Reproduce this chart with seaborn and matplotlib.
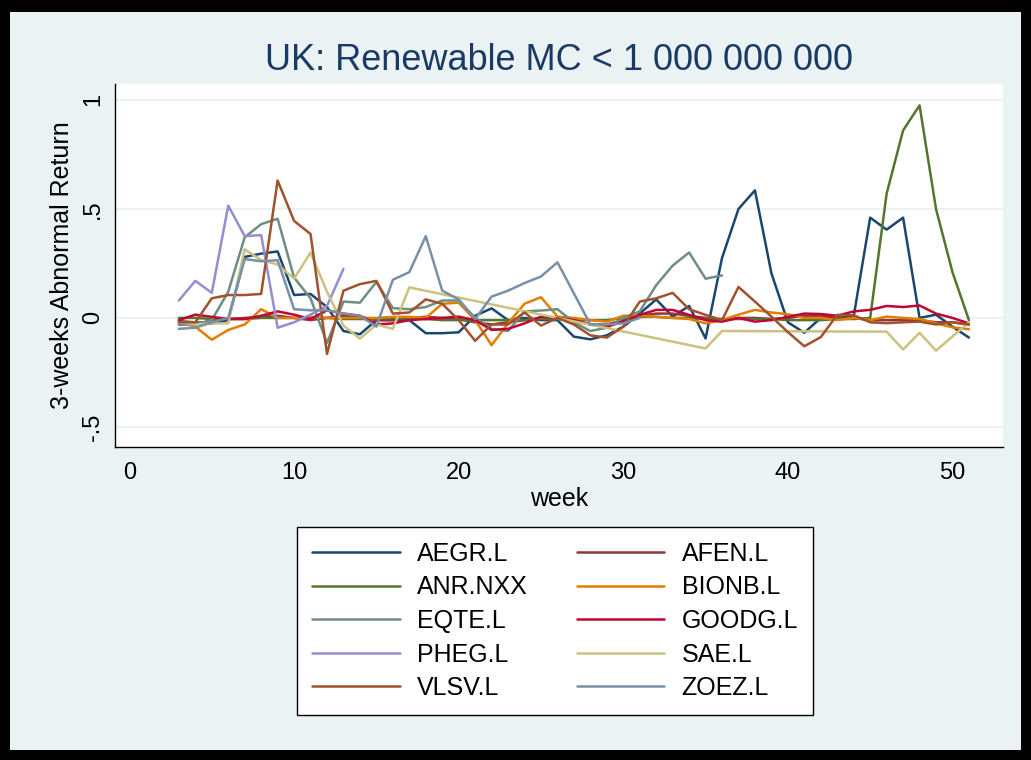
import matplotlib
matplotlib.use("Agg")
import matplotlib.pyplot as plt
import matplotlib.patches as mpatches
import numpy as np
import pandas as pd
import seaborn as sns

# ---------------- data ----------------
companies = ["AEGR.L", "AFEN.L", "ANR.NXX", "BIONB.L", "EQTE.L",
             "GOODG.L", "PHEG.L", "SAE.L", "VLSV.L", "ZOEZ.L"]
colors = ["#1A476F", "#90353B", "#55752F", "#E37E00", "#6E8E84",
          "#C10534", "#938DD2", "#CAC27E", "#A0522D", "#7890A8"]

aegr_weeks = list(range(3, 52))
aegr = [-0.015, -0.02, -0.025, -0.01, 0.28, 0.295, 0.305, 0.105, 0.11, 0.05,
        -0.06, -0.075, -0.01, -0.01, -0.01, -0.07, -0.07, -0.066, 0.01, 0.044,
        -0.01, 0.0, -0.01, -0.01, -0.086, -0.098, -0.08, -0.04, 0.02, 0.085,
        0.006, 0.055, -0.094, 0.275, 0.50, 0.585, 0.205, -0.02, -0.068, 0.0,
        0.0, 0.008, 0.46, 0.405, 0.46, 0.0, 0.015, -0.04, -0.09]

afen_weeks = list(range(3, 52))
afen = [-0.03, -0.03, -0.01, -0.005, 0.0, 0.005, 0.01, 0.0, -0.01, 0.0,
        0.01, 0.005, -0.01, -0.01, 0.0, 0.005, 0.0, -0.005, -0.02, -0.03,
        -0.02, -0.01, 0.0, 0.0, -0.01, -0.03, -0.03, -0.01, 0.01, 0.02,
        0.02, 0.01, 0.0, -0.01, 0.0, 0.0, -0.005, 0.0, 0.01, 0.01,
        0.0, 0.0, -0.01, -0.01, -0.01, -0.01, -0.02, -0.02, -0.03]

anr_weeks = list(range(3, 52))
anr = [0.0, 0.0, -0.005, -0.005, -0.005, 0.0, 0.0, 0.0, 0.0, 0.0,
       -0.005, -0.005, -0.005, 0.0, 0.0, -0.005, -0.01, -0.01, -0.01, -0.01,
       -0.01, -0.01, -0.005, -0.005, -0.01, -0.01, -0.01, 0.0, 0.005, 0.005,
       0.0, 0.0, -0.005, -0.005, -0.005, -0.005, -0.005, -0.01, -0.01, -0.01,
       -0.005, -0.005, 0.0, 0.57, 0.86, 0.975, 0.50, 0.21, -0.01]

bionb_weeks = list(range(3, 52))
bionb = [-0.02, -0.04, -0.10, -0.055, -0.03, 0.04, 0.0, 0.0, 0.005, 0.0,
         0.0, 0.0, 0.0, 0.005, 0.005, 0.0, 0.065, 0.07, -0.01, -0.125,
         -0.025, 0.065, 0.095, 0.006, 0.0, -0.01, -0.017, 0.01, 0.01, 0.005,
         0.0, -0.005, -0.025, -0.01, 0.015, 0.037, 0.025, 0.017, 0.0, 0.0,
         -0.01, 0.0, -0.01, 0.006, 0.0, -0.005, -0.025, -0.043, -0.052]

eqte_weeks = list(range(3, 37))
eqte = [-0.03, -0.03, -0.01, 0.12, 0.37, 0.43, 0.455, 0.185, 0.09, -0.115,
        0.075, 0.07, 0.165, 0.045, 0.04, 0.05, 0.08, 0.08, 0.0, -0.05,
        -0.06, 0.03, 0.034, 0.04, -0.02, -0.06, -0.045, 0.0, 0.03, 0.15,
        0.24, 0.30, 0.18, 0.195]

goodg_weeks = list(range(3, 52))
goodg = [-0.01, 0.015, 0.005, -0.005, -0.005, 0.01, 0.03, 0.015, -0.005, 0.035,
         0.02, 0.01, -0.03, -0.025, -0.01, -0.005, 0.0, 0.006, -0.01, -0.055,
         -0.05, -0.025, 0.006, 0.0, -0.01, -0.03, -0.04, -0.017, 0.014, 0.037,
         0.037, 0.014, -0.01, -0.017, 0.0, -0.017, -0.01, 0.005, 0.02, 0.018,
         0.01, 0.03, 0.037, 0.055, 0.05, 0.057, 0.02, 0.0, -0.025]

pheg_weeks = list(range(3, 14))
pheg = [0.08, 0.17, 0.115, 0.515, 0.375, 0.38, -0.045, -0.02, 0.015, 0.055, 0.225]

sae_weeks = [3, 4, 5, 6, 7, 8, 9, 10, 11, 12, 13, 14, 15, 16, 17,
             35, 36, 46, 47, 48, 49, 50, 51]
sae = [-0.02, -0.03, -0.025, -0.025, 0.315, 0.265, 0.245, 0.18, 0.30, 0.12,
       -0.035, -0.095, -0.03, -0.05, 0.14, -0.14, -0.06, -0.063, -0.145, -0.068,
       -0.15, -0.085, -0.02]

vlsv_weeks = list(range(3, 52))
vlsv = [-0.02, -0.02, 0.09, 0.105, 0.105, 0.11, 0.63, 0.445, 0.385, -0.165,
        0.125, 0.155, 0.17, 0.02, 0.025, 0.085, 0.065, -0.01, -0.105, -0.03,
        -0.03, 0.025, -0.035, 0.0, -0.03, -0.08, -0.09, -0.04, 0.075, 0.09,
        0.115, 0.04, 0.014, -0.01, 0.142, 0.075, 0.006, -0.065, -0.13, -0.088,
        0.014, 0.012, -0.02, -0.024, -0.02, -0.017, -0.03, -0.02, -0.03]

zoez_weeks = [3, 4, 5, 6, 7, 8, 9, 10, 11, 12, 13, 14, 15, 16, 17, 18, 19, 20,
              21, 22, 23, 24, 25, 26, 28, 29, 30, 31]
zoez = [-0.05, -0.045, -0.02, 0.0, 0.27, 0.26, 0.265, 0.04, 0.035, 0.035,
        0.02, 0.01, -0.04, 0.175, 0.21, 0.375, 0.125, 0.085, -0.005, 0.098,
        0.125, 0.16, 0.19, 0.255, -0.03, -0.03, -0.025, 0.0]

title = "UK: Renewable MC < 1 000 000 000"
xlabel = "week"
ylabel = "3-weeks Abnormal Return"
xticks = [0, 10, 20, 30, 40, 50]
yticks = [-0.5, 0, 0.5, 1]
yticklabels = ["-.5", "0", ".5", "1"]

series = [(aegr_weeks, aegr), (afen_weeks, afen), (anr_weeks, anr),
          (bionb_weeks, bionb), (eqte_weeks, eqte), (goodg_weeks, goodg),
          (pheg_weeks, pheg), (sae_weeks, sae), (vlsv_weeks, vlsv),
          (zoez_weeks, zoez)]

frames = []
for name, (w, v) in zip(companies, series):
    frames.append(pd.DataFrame({"week": w, "car": v, "company": name}))
df = pd.concat(frames, ignore_index=True)

# ---------------- figure ----------------
sns.set_style("white")
FONT = ["Liberation Sans", "DejaVu Sans"]
plt.rcParams["font.family"] = FONT
plt.rcParams["text.color"] = "black"
plt.rcParams["axes.labelcolor"] = "black"

W, H = 1031, 760
fig = plt.figure(figsize=(W / 100, H / 100), dpi=100)
fig.patch.set_facecolor("black")
bg = mpatches.Rectangle((10 / W, 10 / H), (W - 20) / W, (H - 22) / H,
                        transform=fig.transFigure, facecolor="#EAF2F3",
                        edgecolor="none", zorder=-10)
fig.patches.append(bg)

L, R, T, B = 115, 1003, 84, 447
ax = fig.add_axes([L / W, 1 - B / H, (R - L) / W, (B - T) / H])
ax.set_zorder(1)
ax.set_facecolor("white")

palette = dict(zip(companies, colors))
sns.lineplot(data=df, x="week", y="car", hue="company", hue_order=companies,
             palette=palette, estimator=None, linewidth=1.8, ax=ax, legend=False)

ax.set_xlim(-0.88, 53.07)
ax.set_ylim(-0.592, 1.073)
ax.set_xticks(xticks)
ax.set_yticks(yticks)
ax.set_yticklabels(yticklabels, rotation=90, va="center")
ax.tick_params(axis="both", direction="out", length=7, width=1, colors="black",
               labelsize=17)
ax.tick_params(axis="y", pad=1)
ax.tick_params(axis="x", pad=4)
ax.grid(axis="y", color="#EAF2F3", linewidth=1.5)
ax.set_axisbelow(True)
for s in ["top", "right"]:
    ax.spines[s].set_visible(False)
for s in ["left", "bottom"]:
    ax.spines[s].set_color("black")
    ax.spines[s].set_linewidth(1.0)

ax.set_xlabel(xlabel, fontsize=18, labelpad=2)
ax.set_ylabel(ylabel, fontsize=18, labelpad=6)
ax.set_title(title, fontsize=26, color="#1A3A66", pad=10)

# legend, filled row-wise like the reference
handles = [plt.Line2D([], [], color=c, linewidth=1.8) for c in colors]
order = list(range(0, 10, 2)) + list(range(1, 10, 2))
leg = fig.legend([handles[i] for i in order], [companies[i] for i in order],
                 loc="upper center", ncol=2,
                 bbox_to_anchor=(555 / W, 1 - 527 / H), borderaxespad=0,
                 fontsize=18,
                 frameon=True, fancybox=False, edgecolor="black",
                 facecolor="white", framealpha=1,
                 handlelength=3.5, handletextpad=0.7, columnspacing=1.95,
                 labelspacing=0.38, borderpad=0.6)
leg.get_frame().set_linewidth(1.0)
for t in leg.get_texts():
    t.set_color("black")

fig.savefig("out.png", dpi=100, facecolor=fig.get_facecolor())
